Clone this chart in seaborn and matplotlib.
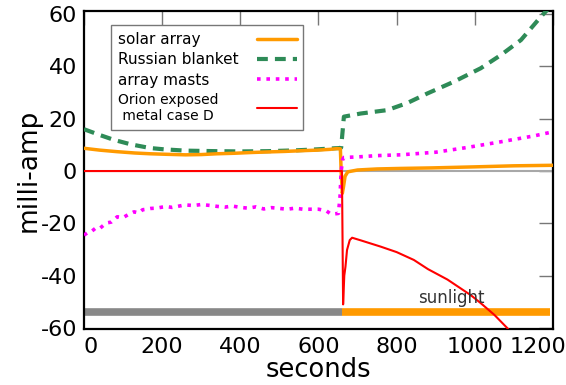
import matplotlib
matplotlib.use("Agg")
import matplotlib.pyplot as plt
import matplotlib.transforms as mtransforms
import seaborn as sns

# Solar array current (orange)
solar_t = [0, 40, 85, 130, 170, 212, 260, 300, 340, 385, 430, 469, 513, 560, 597,
           630, 648, 656, 658, 661, 664, 668, 675, 700, 750, 810, 890, 1000, 1100, 1200]
solar_v = [8.7, 8.0, 7.4, 6.9, 6.6, 6.4, 6.2, 6.3, 6.6, 6.8, 7.1, 7.3, 7.5, 7.8, 8.0,
           8.3, 8.6, 8.5, 0.0, -8.5, -6.0, -2.0, -0.3, 0.4, 0.8, 1.0, 1.2, 1.6, 2.0, 2.2]

# Russian blanket current (green dashed)
blanket_t = [0, 40, 77, 120, 169, 205, 260, 340, 400, 469, 540, 597, 641, 655, 658,
             665, 708, 776, 827, 879, 947, 1015, 1067, 1118, 1169, 1200]
blanket_v = [16.0, 13.8, 11.9, 10.2, 8.8, 8.3, 7.8, 7.6, 7.5, 7.6, 7.9, 8.3, 8.7, 8.8, 9.0,
             20.8, 22.0, 23.3, 26.0, 29.7, 34.2, 39.3, 44.4, 50.1, 59.0, 64.0]

# Array mast current (magenta dotted)
masts_t = [0, 10, 20, 30, 40, 51, 60, 70, 85, 100, 115, 128, 140, 150, 160, 171, 185,
           200, 212, 225, 240, 250, 264, 280, 300, 325, 340, 360, 380, 400, 420, 440,
           460, 480, 500, 520, 540, 560, 580, 600, 620, 631, 640, 651, 655, 658, 662,
           665, 700, 750, 810, 900, 980, 1067, 1150, 1200]
masts_v = [-24.5, -23.5, -23.0, -21.8, -22.0, -20.6, -19.8, -19.5, -17.5, -17.8, -16.5,
           -15.6, -16.0, -14.8, -14.6, -14.3, -14.2, -13.8, -13.6, -13.9, -13.5, -13.2,
           -13.0, -13.2, -12.8, -13.2, -13.5, -13.8, -13.4, -13.9, -14.2, -13.7, -14.5,
           -14.0, -14.3, -14.6, -14.2, -14.6, -14.6, -14.6, -15.2, -16.4, -16.4, -16.2,
           -10.0, 0.0, 4.5, 5.2, 5.4, 5.9, 6.2, 7.2, 9.0, 11.2, 13.4, 15.0]

# Orion exposed metal case D current (red)
orion_t = [0, 660, 663, 666, 669, 673, 680, 686, 708, 759, 800, 844, 880, 930, 990,
           1015, 1050, 1084, 1095]
orion_v = [0.0, 0.0, -51.0, -40.0, -36.6, -30.2, -26.4, -25.5, -26.5, -28.9, -31.0,
           -34.0, -37.5, -41.5, -47.5, -50.5, -55.0, -60.2, -62.5]

series_labels = ["solar array", "Russian blanket", "array masts",
                 "Orion exposed\n metal case D"]

# Eclipse / sunlight bar
eclipse_span = [0, 660]
sun_span = [660, 1192]
bar_level = -54
sun_text = "sunlight"
sun_text_pos = (940, -48.5)

x_ticks = [0, 200, 400, 600, 800, 1000, 1200]
y_ticks = [-60, -40, -20, 0, 20, 40, 60]

sns.set_style("white")
plt.rcParams["font.family"] = ["DejaVu Sans"]
plt.rcParams["text.color"] = "black"
plt.rcParams["axes.labelcolor"] = "black"
plt.rcParams["axes.unicode_minus"] = False

fig = plt.figure(figsize=(5.66, 3.85), dpi=100)
ax = fig.add_axes([0.1484, 0.1455, 0.8286, 0.8259])

ax.axhline(0, color="#a8a8a8", lw=1.5, zorder=1)

sns.lineplot(x=solar_t, y=solar_v, ax=ax, color="#ff9a00", lw=2.5,
             label=series_labels[0], sort=False, zorder=4)
sns.lineplot(x=blanket_t, y=blanket_v, ax=ax, color="#2e8b57", lw=3,
             linestyle=(0, (2.6, 1.7)), label=series_labels[1], sort=False, zorder=3)
sns.lineplot(x=masts_t, y=masts_v, ax=ax, color="#ff00ff", lw=2.6,
             linestyle=(0, (1, 1.6)), label=series_labels[2], sort=False, zorder=5)
sns.lineplot(x=orion_t, y=orion_v, ax=ax, color="#ff0000", lw=1.5,
             label=series_labels[3], sort=False, zorder=6)

ax.hlines(bar_level, *eclipse_span, color="#888888", lw=5.5, zorder=2)
ax.hlines(bar_level, *sun_span, color="#ff9a00", lw=5.5, zorder=2)
ax.text(*sun_text_pos, sun_text, ha="center", va="center", fontsize=12,
        color="#333333", zorder=7)

ax.set_xlim(0, 1200)
ax.set_ylim(-60.4, 61.2)
ax.set_xticks(x_ticks)
ax.set_yticks(y_ticks)
ax.tick_params(direction="in", length=10, width=1, color="#777777",
               labelcolor="black", labelsize=16, top=True, right=True, pad=6)
ax.tick_params(axis="y", pad=5)
for s in ax.spines.values():
    s.set_color("black")
    s.set_linewidth(1.6)

# pull the outer x tick labels in towards the plot
xlabels = ax.get_xticklabels()
xlabels[0].set_transform(xlabels[0].get_transform() +
                         mtransforms.ScaledTranslation(7 / 100, 0, fig.dpi_scale_trans))
xlabels[-1].set_transform(xlabels[-1].get_transform() +
                          mtransforms.ScaledTranslation(-15 / 100, 0, fig.dpi_scale_trans))

ax.set_xlabel("seconds", fontsize=18.5, labelpad=0)
ax.set_ylabel("milli-amp", fontsize=19, labelpad=-1)

leg = ax.legend(loc="upper left", bbox_to_anchor=(0.0576, 0.956),
                borderaxespad=0, markerfirst=False, fontsize=11, handlelength=2.6,
                fancybox=False, framealpha=1, edgecolor="#777777",
                borderpad=0.45, labelspacing=0.35, handletextpad=1.2)
leg.get_frame().set_linewidth(1.0)
leg.get_texts()[3].set_fontsize(10)

# left-align the labels: pad each row so the handles line up on the right
fig.canvas.draw()
renderer = fig.canvas.get_renderer()
widths = [t.get_window_extent(renderer).width for t in leg.get_texts()]
wmax = max(widths)
rows = [r for col in leg._legend_handle_box.get_children() for r in col.get_children()]
for row, w in zip(rows, widths):
    row.sep = row.sep + (wmax - w) * 72 / fig.dpi

fig.savefig("out.png", dpi=100)
